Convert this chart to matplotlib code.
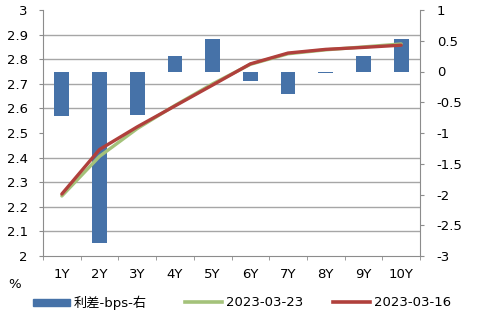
import matplotlib
matplotlib.use("Agg")
import matplotlib.pyplot as plt
import numpy as np
from matplotlib.lines import Line2D
from matplotlib.patches import Patch

categories = ["1Y", "2Y", "3Y", "4Y", "5Y", "6Y", "7Y", "8Y", "9Y", "10Y"]
spread_bps = [-0.72, -2.79, -0.70, 0.25, 0.53, -0.155, -0.36, -0.02, 0.25, 0.53]
y_0323 = [2.244, 2.405, 2.518, 2.612, 2.700, 2.779, 2.822, 2.838, 2.850, 2.862]
y_0316 = [2.252, 2.433, 2.525, 2.610, 2.695, 2.781, 2.825, 2.840, 2.848, 2.857]
left_ticks = [2, 2.1, 2.2, 2.3, 2.4, 2.5, 2.6, 2.7, 2.8, 2.9, 3]
right_ticks = [-3, -2.5, -2, -1.5, -1, -0.5, 0, 0.5, 1]
series_labels = ["利差-bps-右", "2023-03-23", "2023-03-16"]

W, H = 479, 320
FS = 9.5
fig = plt.figure(figsize=(W/100, H/100), dpi=100)
ax = fig.add_axes([43/W, 1-256/H, (420-43)/W, (256-10)/H])
ax2 = ax.twinx()
ax.set_zorder(ax2.get_zorder() + 1)
ax.patch.set_visible(False)

x = np.arange(len(categories))
bar_c = "#4672a8"
green = "#a4c27a"
red = "#b0403c"
grid_c = "#a6a6a6"
spine_c = "#8c8c8c"

ax2.bar(x, spread_bps, width=0.39, color=bar_c, zorder=2)
ax2.set_ylim(-3, 1)
ax2.set_yticks(right_ticks)
ax2.set_yticklabels([f"{t:g}" for t in right_ticks])
ax2.set_yticks(np.linspace(-3, 1, 11), minor=True)
ax2.grid(True, which="minor", axis="y", color=grid_c, linewidth=1.0, zorder=0)
ax2.tick_params(axis="y", which="minor", length=0)
ax2.tick_params(axis="y", which="major", length=3, color=spine_c, labelsize=FS, pad=9)
ax2.set_axisbelow(True)

ax.plot(x, y_0323, color=green, linewidth=2.4, solid_capstyle="round", zorder=3)
ax.plot(x, y_0316, color=red, linewidth=2.4, solid_capstyle="round", zorder=4)
ax.set_ylim(2, 3)
ax.set_yticks(left_ticks)
ax.set_yticklabels([f"{t:g}" for t in left_ticks])
ax.set_xlim(-0.5, len(categories) - 0.5)
ax.set_xticks(x)
ax.set_xticklabels(categories)
ax.set_xticks(np.arange(-0.5, len(categories)), minor=True)
ax.tick_params(axis="x", which="major", length=0, labelsize=FS, pad=9)
ax.tick_params(axis="x", which="minor", length=3, color=spine_c)
ax.tick_params(axis="y", length=3, color=spine_c, labelsize=FS, pad=8)

for a in (ax, ax2):
    a.spines["top"].set_visible(False)
    for s in ("left", "right", "bottom"):
        a.spines[s].set_color(spine_c)
ax2.spines["left"].set_visible(False)
ax2.spines["bottom"].set_visible(False)
ax.spines["right"].set_visible(False)

fig.text(8/W, 1-284/H, "%", fontsize=FS, va="center", ha="left")

handles = [Patch(color=bar_c), Line2D([], [], color=green, lw=2.6), Line2D([], [], color=red, lw=2.6)]
starts = [33, 185, 333]
for h, lab, xs in zip(handles, series_labels, starts):
    fig.legend([h], [lab], loc="center left", bbox_to_anchor=(xs/W, 1-303/H),
               frameon=False, handlelength=2.8, handleheight=0.45, handletextpad=0.3,
               borderpad=0, borderaxespad=0,
               prop={"family": ["DejaVu Sans", "Noto Sans CJK SC"], "size": FS})
fig.savefig("out.png", dpi=100)
